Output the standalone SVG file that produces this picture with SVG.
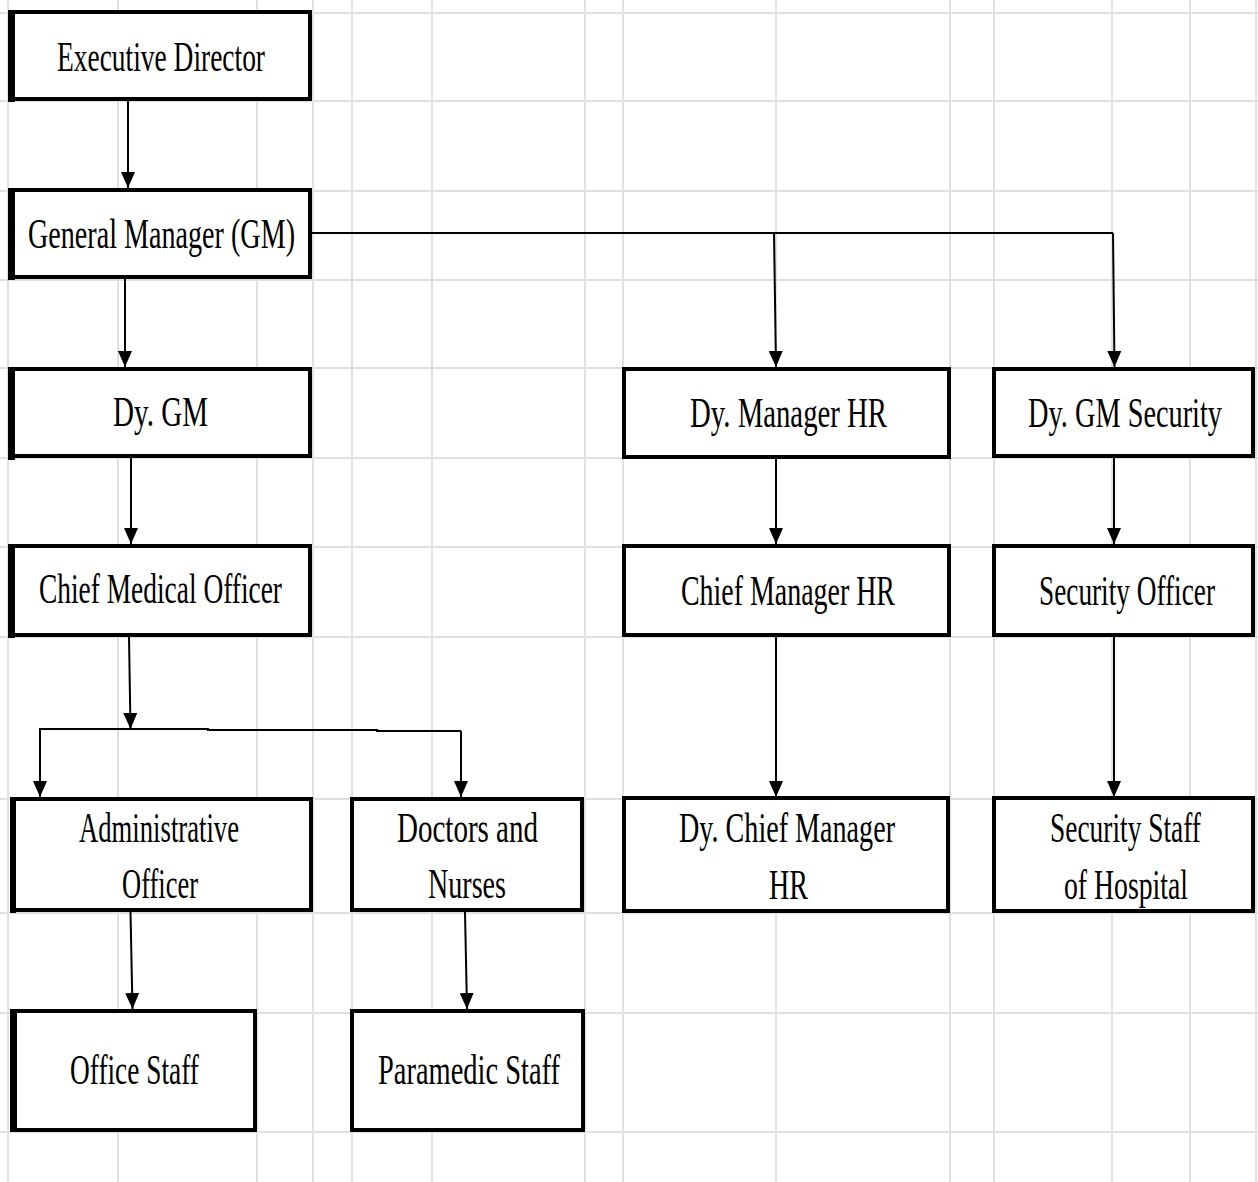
<svg xmlns="http://www.w3.org/2000/svg" width="1258" height="1182" viewBox="0 0 1258 1182">
<style>
.grid line{stroke:#e0e0e0;stroke-width:2}
.box{fill:#fff;stroke:#000;stroke-width:4}
.lb{fill:#000}
.t{font-family:"Liberation Serif","Times New Roman",serif;font-size:29px;fill:#000}
.c{fill:none;stroke:#000;stroke-width:2}
</style>
<defs>
<marker id="ah" markerWidth="16" markerHeight="14" refX="16" refY="7" orient="auto" markerUnits="userSpaceOnUse" viewBox="0 0 16 14">
<path d="M0,0 L16,7 L0,14 Z" fill="#000"/>
</marker>
</defs>
<rect width="1258" height="1182" fill="#fff"/>
<g class="grid">
<line x1="8" y1="0" x2="8" y2="1182"/>
<line x1="118" y1="0" x2="118" y2="1182"/>
<line x1="257" y1="0" x2="257" y2="1182"/>
<line x1="313" y1="0" x2="313" y2="1182"/>
<line x1="352" y1="0" x2="352" y2="1182"/>
<line x1="432" y1="0" x2="432" y2="1182"/>
<line x1="585" y1="0" x2="585" y2="1182"/>
<line x1="623" y1="0" x2="623" y2="1182"/>
<line x1="776" y1="0" x2="776" y2="1182"/>
<line x1="950" y1="0" x2="950" y2="1182"/>
<line x1="994" y1="0" x2="994" y2="1182"/>
<line x1="1112" y1="0" x2="1112" y2="1182"/>
<line x1="1190" y1="0" x2="1190" y2="1182"/>
<line x1="1256" y1="0" x2="1256" y2="1182"/>
<line x1="0" y1="13" x2="1258" y2="13"/>
<line x1="0" y1="101" x2="1258" y2="101"/>
<line x1="0" y1="191" x2="1258" y2="191"/>
<line x1="0" y1="280" x2="1258" y2="280"/>
<line x1="0" y1="368" x2="1258" y2="368"/>
<line x1="0" y1="458" x2="1258" y2="458"/>
<line x1="0" y1="547" x2="1258" y2="547"/>
<line x1="0" y1="637" x2="1258" y2="637"/>
<line x1="0" y1="799" x2="1258" y2="799"/>
<line x1="0" y1="913" x2="1258" y2="913"/>
<line x1="0" y1="1013" x2="1258" y2="1013"/>
<line x1="0" y1="1132" x2="1258" y2="1132"/>
</g>
<g id="connectors">
<line class="c" x1="128" y1="101" x2="128" y2="188" marker-end="url(#ah)"/>
<line class="c" x1="125" y1="279" x2="125" y2="367" marker-end="url(#ah)"/>
<line class="c" x1="131" y1="458" x2="131" y2="544" marker-end="url(#ah)"/>
<line class="c" x1="129" y1="637" x2="130.5" y2="729" marker-end="url(#ah)"/>
<polyline class="c" points="40,729 208,729 208,730 377,730 377,731 461,731"/>
<line class="c" x1="40" y1="728" x2="40" y2="797" marker-end="url(#ah)"/>
<line class="c" x1="461" y1="731" x2="461" y2="797" marker-end="url(#ah)"/>
<line class="c" x1="130.5" y1="912" x2="132.5" y2="1009" marker-end="url(#ah)"/>
<line class="c" x1="465" y1="912" x2="467" y2="1009" marker-end="url(#ah)"/>
<polyline class="c" points="312,233 1113,233"/>
<line class="c" x1="774" y1="233" x2="776" y2="367" marker-end="url(#ah)"/>
<line class="c" x1="1113" y1="233" x2="1114.5" y2="367" marker-end="url(#ah)"/>
<line class="c" x1="776" y1="459" x2="776" y2="544" marker-end="url(#ah)"/>
<line class="c" x1="1114" y1="458" x2="1114" y2="544" marker-end="url(#ah)"/>
<line class="c" x1="776" y1="637" x2="776" y2="797" marker-end="url(#ah)"/>
<line class="c" x1="1114" y1="637" x2="1114" y2="797" marker-end="url(#ah)"/>
</g>
<g id="executive-director">
<rect class="box" x="10" y="12" width="300" height="87"/>
<rect class="lb" x="8" y="10" width="7" height="92"/>
<text class="t" transform="matrix(1,0,0,1.45,57,71)" textLength="208" lengthAdjust="spacingAndGlyphs">Executive Director</text>
</g>
<g id="general-manager">
<rect class="box" x="10" y="190" width="300" height="87"/>
<rect class="lb" x="8" y="188" width="7" height="92"/>
<text class="t" transform="matrix(1,0,0,1.45,28,248)" textLength="267" lengthAdjust="spacingAndGlyphs">General Manager (GM)</text>
</g>
<g id="dy-gm">
<rect class="box" x="10" y="369" width="300" height="87"/>
<rect class="lb" x="8" y="367" width="7" height="93"/>
<text class="t" transform="matrix(1,0,0,1.45,113,426)" textLength="95" lengthAdjust="spacingAndGlyphs">Dy. GM</text>
</g>
<g id="chief-medical-officer">
<rect class="box" x="10" y="546" width="300" height="89"/>
<rect class="lb" x="8" y="544" width="7" height="94"/>
<text class="t" transform="matrix(1,0,0,1.45,39,603)" textLength="243" lengthAdjust="spacingAndGlyphs">Chief Medical Officer</text>
</g>
<g id="administrative-officer">
<rect class="box" x="13" y="799" width="298" height="111"/>
<rect class="lb" x="10" y="797" width="6" height="116"/>
<text class="t" transform="matrix(1,0,0,1.45,79,842)" textLength="160" lengthAdjust="spacingAndGlyphs">Administrative</text>
<text class="t" transform="matrix(1,0,0,1.45,122,898)" textLength="76" lengthAdjust="spacingAndGlyphs">Officer</text>
</g>
<g id="doctors-and-nurses">
<rect class="box" x="352" y="799" width="230" height="111"/>
<text class="t" transform="matrix(1,0,0,1.45,397,842)" textLength="141" lengthAdjust="spacingAndGlyphs">Doctors and</text>
<text class="t" transform="matrix(1,0,0,1.45,428,898)" textLength="78" lengthAdjust="spacingAndGlyphs">Nurses</text>
</g>
<g id="office-staff">
<rect class="box" x="12" y="1011" width="243" height="119"/>
<rect class="lb" x="10" y="1011" width="7" height="121"/>
<text class="t" transform="matrix(1,0,0,1.45,70,1084)" textLength="129" lengthAdjust="spacingAndGlyphs">Office Staff</text>
</g>
<g id="paramedic-staff">
<rect class="box" x="352" y="1011" width="231" height="119"/>
<text class="t" transform="matrix(1,0,0,1.45,378,1084)" textLength="182" lengthAdjust="spacingAndGlyphs">Paramedic Staff</text>
</g>
<g id="dy-manager-hr">
<rect class="box" x="624" y="369" width="325" height="88"/>
<text class="t" transform="matrix(1,0,0,1.45,690,427)" textLength="197" lengthAdjust="spacingAndGlyphs">Dy. Manager HR</text>
</g>
<g id="dy-gm-security">
<rect class="box" x="994" y="369" width="259" height="87"/>
<text class="t" transform="matrix(1,0,0,1.45,1028,427)" textLength="194" lengthAdjust="spacingAndGlyphs">Dy. GM Security</text>
</g>
<g id="chief-manager-hr">
<rect class="box" x="624" y="546" width="325" height="89"/>
<text class="t" transform="matrix(1,0,0,1.45,681,605)" textLength="214" lengthAdjust="spacingAndGlyphs">Chief Manager HR</text>
</g>
<g id="security-officer">
<rect class="box" x="994" y="546" width="259" height="89"/>
<text class="t" transform="matrix(1,0,0,1.45,1039,605)" textLength="176" lengthAdjust="spacingAndGlyphs">Security Officer</text>
</g>
<g id="dy-chief-manager-hr">
<rect class="box" x="624" y="798" width="324" height="113"/>
<text class="t" transform="matrix(1,0,0,1.45,679,842)" textLength="216" lengthAdjust="spacingAndGlyphs">Dy. Chief Manager</text>
<text class="t" transform="matrix(1,0,0,1.45,769,899)" textLength="39" lengthAdjust="spacingAndGlyphs">HR</text>
</g>
<g id="security-staff">
<rect class="box" x="994" y="798" width="259" height="113"/>
<text class="t" transform="matrix(1,0,0,1.45,1050,842)" textLength="151" lengthAdjust="spacingAndGlyphs">Security Staff</text>
<text class="t" transform="matrix(1,0,0,1.45,1064,899)" textLength="124" lengthAdjust="spacingAndGlyphs">of Hospital</text>
</g>
</svg>
